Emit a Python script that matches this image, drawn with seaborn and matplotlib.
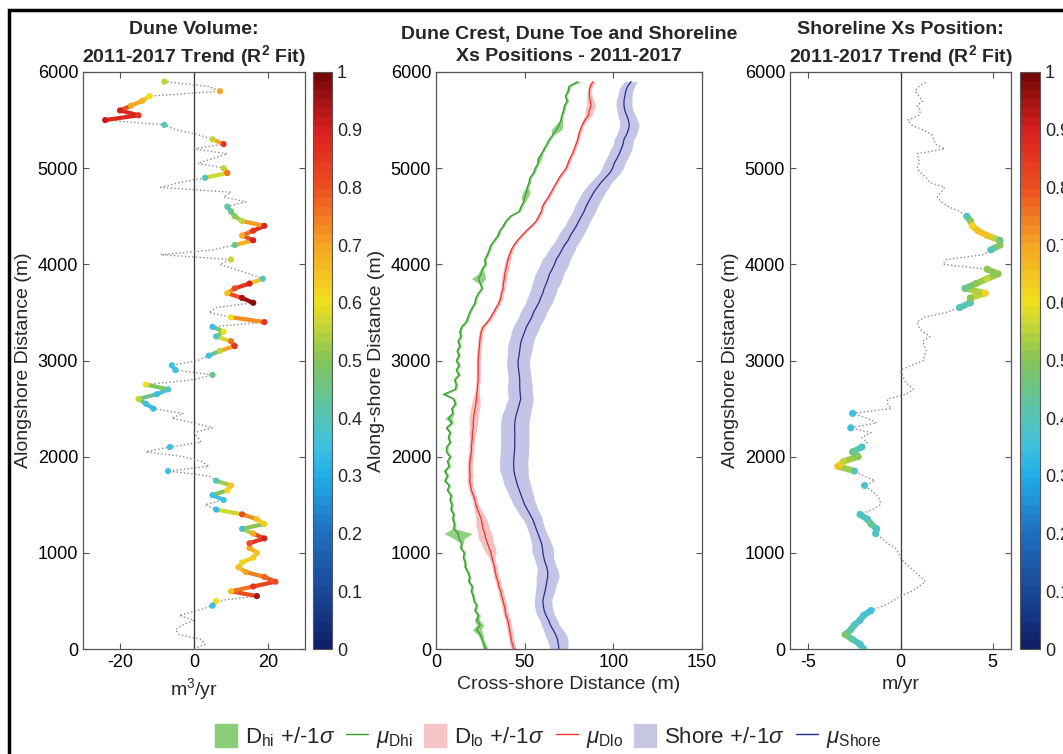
import numpy as np
import pandas as pd
import seaborn as sns
import matplotlib
matplotlib.use("Agg")
import matplotlib.pyplot as plt
from matplotlib.colors import LinearSegmentedColormap, Normalize
from matplotlib.cm import ScalarMappable
from matplotlib.patches import Patch, Rectangle
from matplotlib.lines import Line2D
from matplotlib.collections import LineCollection

# ---------------- data ----------------
alongshore = list(range(0, 5901, 50))

vol_trend = [0, 3, 2, -4, -5, -3, 0, -4, 1, 5,
             6, 17, 10, 16, 22, 19, 14, 12, 13, 16,
             17, 15, 15, 19, 16, 13, 19, 17, 13, 6,
             3, 8, 5, 9, 10, 6, 4, -7, 4, 2,
             -3, -13, -6.5, 2, 1, 0, 5, 0, -6, -3,
             -11, -13, -15, -10, -7, -13, 0, 5, -5, -6,
             1, 4, 7, 11, 10, 6, 8, 5, 19, 10,
             4, 6, 16, 13, 9, 11, 15, 18.6, 15, 11,
             7, 10, -9, 5, 11, 16, 13, 16, 19, 13,
             11, 10, 9, 14, 8, 10, -9, -4, 3, 9,
             8, 1, 5, 9, 0, 8, 5, 1, -5, -8,
             -24, -15, -20, -17, -14, -12, 7, 4, -8]
vol_r2 = [.1, .1, .1, .1, .1, .1, .1, .1, .1, .35,
          .6, .95, .65, .85, .8, .78, .7, .65, .62, .63,
          .65, .7, .8, .9, .7, .38, .63, .65, .8, .33,
          .1, .35, .35, .62, .65, .4, .1, .35, .1, .1,
          .1, .1, .35, .1, .1, .1, .1, .1, .1, .1,
          .33, .35, .55, .35, .38, .6, .1, .45, .35, .35,
          .1, .35, .55, .85, .75, .4, .6, .35, .85, .6,
          .1, .1, .97, .95, .65, .8, .9, .4, .1, .1,
          .1, .55, .1, .1, .45, .9, .7, .85, .88, .55,
          .5, .45, .42, .1, .1, .1, .1, .1, .4, .75,
          .55, .1, .1, .1, .1, .85, .55, .1, .1, .4,
          .92, .85, .9, .7, .68, .6, .7, .1, .55]

shore_trend = [-2.0, -2.2, -2.6, -3.0, -2.7, -2.5, -2.2, -2.0, -1.6, -0.9,
               -0.4, 0.0, 0.6, 1.0, 1.35, 1.1, 0.8, 0.5, 0.2, 0.0,
               -0.1, -0.3, -0.7, -1.0, -1.35, -1.3, -1.6, -1.8, -2.2, -1.5,
               -1.1, -1.1, -1.3, -1.6, -1.95, -1.4, -2.0, -2.5, -3.4, -3.1,
               -2.3, -2.6, -2.1, -1.8, -2.1, -1.6, -2.7, -1.3, -1.8, -2.6,
               -0.5, -0.7, -0.7, 0.3, 0.7, 0.4, 0.2, 0.1, 0.0, 0.6,
               1.26, 1.3, 1.4, 1.3, 1.2, 1.6, 1.2, 1.0, 0.9, 1.3,
               2.5, 3.2, 3.8, 3.8, 4.6, 3.5, 4.1, 4.7, 5.3, 4.7,
               2.3, 2.5, 4.5, 4.9, 5.4, 5.4, 4.7, 4.2, 3.9, 3.8,
               3.6, 3.2, 2.6, 2.2, 2.0, 2.2, 2.4, 1.6, 1.4, 1.1,
               0.9, 1.0, 1.0, 0.9, 2.4, 1.9, 1.8, 1.7, 1.2, 0.6,
               0.4, 1.0, 1.1, 0.9, 1.2, 1.0, 0.8, 1.0, 1.4]
shore_r2 = [.38, .38, .42, .48, .42, .4, .38, .38, .35, .1,
            .1, .1, .1, .1, .1, .1, .1, .1, .1, .1,
            .1, .1, .1, .1, .38, .38, .45, .4, .38, .1,
            .1, .1, .1, .1, .38, .1, .1, .4, .65, .55,
            .5, .45, .38, .1, .1, .1, .35, .1, .1, .35,
            .1, .1, .1, .1, .1, .1, .1, .1, .1, .1,
            .1, .1, .1, .1, .1, .1, .1, .1, .1, .1,
            .1, .4, .42, .5, .62, .45, .5, .55, .5, .5,
            .1, .1, .1, .4, .5, .45, .65, .65, .62, .5,
            .4, .1, .1, .1, .1, .1, .1, .1, .1, .1,
            .1, .1, .1, .1, .1, .1, .1, .1, .1, .1,
            .1, .1, .1, .1, .1, .1, .1, .1, .1]

dhi_mean = [28, 27, 26, 25, 23, 25, 23, 24, 22, 23,
            21.5, 21, 20, 20.5, 18.5, 19, 18, 16.5, 16.5, 15.5,
            16, 14, 14.5, 13, 12.5, 10, 10.5, 9.5, 10, 8.5,
            9, 8, 8.5, 6.5, 7.5, 5, 6.5, 5, 7.5, 6.5,
            8, 6, 6, 8, 7, 8, 6, 9, 7, 9.5,
            9, 11, 10, 4.5, 11, 11.5, 10.5, 13, 11.5, 13,
            11.5, 13, 12, 13.5, 12.5, 14, 13.5, 14.5, 17, 18,
            19, 20.5, 22, 22.5, 24, 26, 25, 24, 25.5, 26,
            28, 27.5, 29, 30, 31, 33, 35, 36, 38, 39.5,
            42, 47, 48, 49.5, 50, 51, 51.5, 52.5, 53, 55,
            56, 57.5, 58, 59.5, 61, 62.5, 64, 66, 68, 69.5,
            70.5, 71, 72, 72.5, 74, 73, 74.5, 75, 80]
dhi_sd = [1.5, 1.2, 1.0, 1.5, 2.5, 2.0, 1.5, 1.0, 0.8, 0.8,
          0.8, 0.8, 0.8, 0.8, 0.8, 0.8, 0.8, 0.8, 0.8, 0.8,
          0.8, 0.8, 0.8, 3, 8, 1, 0.8, 0.8, 0.8, 0.8,
          0.8, 0.8, 0.8, 0.8, 0.8, 0.8, 0.8, 0.8, 0.8, 0.8,
          0.8, 0.8, 0.8, 0.8, 0.8, 0.8, 0.8, 0.8, 2.0, 0.8,
          0.8, 0.8, 0.8, 1.5, 0.8, 0.8, 0.8, 0.8, 0.8, 0.8,
          0.8, 0.8, 0.8, 0.8, 0.8, 0.8, 0.8, 0.8, 0.8, 0.8,
          0.8, 0.8, 0.8, 0.8, 0.8, 0.8, 0.8, 4, 2, 0.8,
          0.8, 0.8, 0.8, 0.8, 0.8, 0.8, 0.8, 0.8, 0.8, 0.8,
          0.8, 0.8, 0.8, 0.8, 2, 2, 0.8, 0.8, 0.8, 0.8,
          0.8, 0.8, 1.5, 0.8, 0.8, 0.8, 0.8, 0.8, 3, 2,
          0.8, 0.8, 0.8, 0.8, 0.8, 0.8, 0.8, 1.0, 2]

dlo_mean = [44, 43, 42.5, 42, 41.5, 41, 40.5, 39.5, 39, 38.5,
            37.8, 37, 36.5, 35.5, 35, 34, 33.5, 33, 32.3, 31.5,
            31, 30, 29, 28, 27.5, 26.5, 26, 25.5, 24.5, 23.5,
            22.5, 22, 21, 20, 19.5, 19, 19.2, 19, 19, 19.2,
            19.5, 20, 20, 20.2, 20.5, 20.5, 21, 21, 21.2, 21.5,
            22, 22.5, 22.8, 23, 23.3, 23.5, 23.8, 23.8, 23.8, 23.8,
            23.8, 24, 24.2, 24.5, 24.7, 25, 25.5, 26.6, 29, 31,
            32.5, 34, 35.5, 36.5, 37, 37.8, 38, 38.5, 38.8, 39.5,
            40, 40.6, 41.5, 42.5, 44, 46, 48.5, 51, 54, 56.5,
            58, 59.5, 60, 61.5, 63.5, 65, 66.5, 68, 69.5, 71.5,
            73.4, 74.5, 75.5, 77, 78, 79, 80, 80.5, 81.5, 82.5,
            84, 86, 86.5, 87.5, 87, 86.5, 86.5, 87, 88.5]
dlo_sd = [1.5, 1.5, 1.5, 1.5, 1.5, 1.5, 1.5, 1.5, 1.5, 1.5,
          1.5, 1.5, 1.5, 1.5, 1.5, 1.5, 1.5, 1.5, 1.5, 1.5,
          3, 3.5, 3.5, 4, 4, 3.5, 3.5, 3, 2.5, 2,
          1.5, 1.5, 1.5, 1.5, 1.5, 1.5, 1.5, 1.5, 1.5, 1.5,
          1.5, 1.5, 1.5, 1.5, 1.5, 2, 2, 2.5, 2.5, 2.5,
          2.5, 2.5, 2, 1.5, 1.2, 1.2, 1.2, 1.2, 1.2, 1.2,
          1.2, 1.2, 1.2, 1.2, 1.2, 1.2, 1.2, 1.2, 1.2, 1.2,
          1.2, 1.2, 1.2, 1.2, 1.2, 1.2, 1.5, 1.5, 1.5, 1.5,
          1.5, 1.5, 1.2, 1.2, 1, 1, 1, 1, 1, 1,
          1, 1, 1, 1, 1, 1, 1, 1, 1, 1,
          1, 1, 1, 1, 1, 1, 1, 1, 1, 1,
          1.5, 2, 2.5, 2.5, 2, 1.5, 1.2, 1.2, 1.5]

shore_mean = [69.3, 69, 68.5, 67.5, 66, 64.5, 63.5, 62, 61, 60.5,
              60.3, 60.8, 61.5, 62, 62.5, 63, 63, 62.5, 61.5, 60.8,
              60.3, 60, 59.5, 58.5, 57.5, 56.5, 55.5, 54.5, 53, 51.5,
              50, 49, 48, 47, 46, 45.3, 44.5, 44, 43.8, 43.8,
              44, 44.2, 44.4, 44.4, 44.4, 44.5, 44.3, 44.4, 44.8, 45.5,
              46.3, 47, 47.8, 47.5, 47.3, 47.2, 47.2, 47, 46.6, 46.3,
              46.3, 46.8, 47.2, 47.5, 48, 49, 50, 51, 52.5, 54,
              55, 56.5, 58, 59, 60.2, 61, 62.2, 63.2, 64, 65.5,
              66.8, 67.8, 69.5, 71, 72.5, 74.5, 75.8, 77.5, 79.2, 80.5,
              82, 83.5, 84.6, 86, 87.5, 89, 91, 93, 95.5, 98,
              99.6, 100.5, 102, 103.4, 104.5, 105.5, 106, 107.5, 108.5, 109,
              108.5, 107.5, 106.5, 106, 106, 106.5, 107, 108, 110]
shore_sd = [5, 5.5, 6, 6, 5.5, 5, 5, 5, 5, 5,
            5, 5, 5.5, 5.5, 6, 6.5, 6, 5.5, 5.5, 5.5,
            6, 6, 5.5, 5.5, 5, 5, 5, 5.5, 6, 6,
            6.5, 6.5, 7, 7, 7.5, 7.5, 7.5, 8, 8, 8,
            8, 8, 8, 8, 8, 8, 8, 8, 8, 8,
            7.5, 7.5, 7, 7, 7, 7, 6.5, 6.5, 6.5, 6.5,
            6.5, 6.5, 7, 7, 7, 7, 7.5, 7.5, 7.5, 7.5,
            7.5, 7.5, 7.5, 7.5, 7.5, 7.5, 8, 8, 8, 8,
            8, 8, 7.5, 7.5, 7, 7, 7, 7, 6.5, 6.5,
            6.5, 6.5, 6.5, 6.5, 6.5, 6.5, 6.5, 6, 6, 6,
            6, 6, 6, 6, 6, 5.5, 5.5, 5.5, 5.5, 5.5,
            5, 5, 4.5, 4.5, 4.5, 4, 4, 4, 3.5]

r2_ticks = [0, 0.1, 0.2, 0.3, 0.4, 0.5, 0.6, 0.7, 0.8, 0.9, 1]
r2_ticklabels = ["0", "0.1", "0.2", "0.3", "0.4", "0.5", "0.6", "0.7", "0.8", "0.9", "1"]
y_ticks = [0, 1000, 2000, 3000, 4000, 5000, 6000]
R2_MIN = 0.3

# ---------------- style ----------------
sns.set_style("ticks")
plt.rcParams["font.family"] = ["Liberation Sans", "DejaVu Sans"]
plt.rcParams["mathtext.fontset"] = "custom"
plt.rcParams["mathtext.rm"] = "Liberation Sans"
plt.rcParams["mathtext.it"] = "Liberation Sans:italic"
plt.rcParams["mathtext.bf"] = "Liberation Sans:bold"
plt.rcParams["axes.edgecolor"] = "#555555"
plt.rcParams["axes.linewidth"] = 0.9
plt.rcParams["axes.unicode_minus"] = False

cmap = LinearSegmentedColormap.from_list(
    "r2", [(0.0, "#10206a"), (0.1, "#1a4a9a"), (0.2, "#2070c0"), (0.3, "#20b0e8"),
           (0.35, "#40c0e0"), (0.4, "#55c4b8"), (0.5, "#84c45a"), (0.6, "#f0e020"),
           (0.7, "#f6a622"), (0.8, "#ee5220"), (0.9, "#dc2020"), (1.0, "#780808")], N=64)
norm = Normalize(0, 1)

W, H = 1063, 754
fig = plt.figure(figsize=(W / 100, H / 100), dpi=100)


def fx(p):
    return p / W


def fy(p):
    return 1 - p / H


def style_axes(ax):
    ax.tick_params(direction="in", top=True, right=True, length=4, width=0.8,
                   labelsize=13, color="#555555", labelcolor="black")
    ax.set_ylim(0, 6000)
    ax.set_yticks(y_ticks)


def add_cbar(x0, x1):
    cax = fig.add_axes([fx(x0), fy(649), fx(x1 - x0), fy(72) - fy(649)])
    cb = fig.colorbar(ScalarMappable(norm=norm, cmap=cmap), cax=cax, ticks=r2_ticks)
    cb.ax.set_yticklabels(r2_ticklabels)
    cb.ax.tick_params(direction="in", length=3, labelsize=13, color="#555555")
    cb.outline.set_edgecolor("#555555")
    cb.outline.set_linewidth(0.8)
    return cb


def trend_panel(ax, df, lw, size, max_jump):
    ax.axvline(0, color="#333333", lw=0.9, zorder=1)
    ax.plot(df["v"], df["y"], ls=":", color="#8c8c8c", lw=1.0, zorder=2)
    v, yy, r = df["v"].to_numpy(), df["y"].to_numpy(), df["r2"].to_numpy()
    segs, cols = [], []
    for i in range(len(v) - 1):
        if r[i] >= R2_MIN and r[i + 1] >= R2_MIN and abs(v[i + 1] - v[i]) < max_jump:
            segs.append([(v[i], yy[i]), (v[i + 1], yy[i + 1])])
            cols.append(cmap(norm((r[i] + r[i + 1]) / 2)))
    ax.add_collection(LineCollection(segs, colors=cols, linewidths=lw,
                                     capstyle="round", zorder=3))
    sig = df[df["r2"] >= R2_MIN].sort_values("r2")
    sns.scatterplot(data=sig, x="v", y="y", hue="r2", palette=cmap, hue_norm=(0, 1),
                    s=size, linewidth=0, legend=False, ax=ax, zorder=4)


ax_bottom, ax_h = fy(649), fy(72) - fy(649)
TITLE_FS = 14

# ---------------- left panel ----------------
ax1 = fig.add_axes([fx(83), ax_bottom, fx(222), ax_h])
df1 = pd.DataFrame({"y": alongshore, "v": vol_trend, "r2": vol_r2})
trend_panel(ax1, df1, 3.0, 20, 10)
ax1.set_xlim(-30, 30)
ax1.set_xticks([-20, 0, 20])
style_axes(ax1)
ax1.set_xlabel("m$^{\\mathregular{3}}$/yr", fontsize=14)
ax1.set_ylabel("Alongshore Distance (m)", fontsize=14)
ax1.set_title("Dune Volume:\n2011-2017 Trend (R$^{\\mathbf{2}}$ Fit)",
              fontsize=TITLE_FS, fontweight="bold", pad=7, linespacing=1.3)
add_cbar(313, 332)

# ---------------- middle panel ----------------
ax2 = fig.add_axes([fx(436), ax_bottom, fx(266), ax_h])
y = np.array(alongshore)
series = [
    (dhi_mean, dhi_sd, "#93d084", "#33a02c"),
    (dlo_mean, dlo_sd, "#f7c0c0", "#e8352e"),
    (shore_mean, shore_sd, "#c4c4e6", "#2b2b8c"),
]
for m, s, fc, lc in series:
    m = np.array(m)
    s = np.array(s)
    ax2.fill_betweenx(y, m - s, m + s, color=fc, lw=0, zorder=1)
    sns.lineplot(x=m, y=y, sort=False, estimator=None, color=lc, lw=0.9, ax=ax2, zorder=2)
ax2.set_xlim(0, 150)
ax2.set_xticks([0, 50, 100, 150])
style_axes(ax2)
ax2.set_xlabel("Cross-shore Distance (m)", fontsize=14)
ax2.set_ylabel("Along-shore Distance (m)", fontsize=14)
ax2.set_title("Dune Crest, Dune Toe and Shoreline\nXs Positions - 2011-2017",
              fontsize=TITLE_FS, fontweight="bold", pad=8, linespacing=1.35)

# ---------------- right panel ----------------
ax3 = fig.add_axes([fx(790), ax_bottom, fx(221), ax_h])
df3 = pd.DataFrame({"y": alongshore, "v": shore_trend, "r2": shore_r2})
trend_panel(ax3, df3, 4.5, 26, 2.0)
ax3.set_xlim(-6, 6)
ax3.set_xticks([-5, 0, 5])
style_axes(ax3)
ax3.set_xlabel("m/yr", fontsize=14)
ax3.set_ylabel("Alongshore Distance (m)", fontsize=14)
ax3.set_title("Shoreline Xs Position:\n2011-2017 Trend (R$^{\\mathbf{2}}$ Fit)",
              fontsize=TITLE_FS, fontweight="bold", pad=7, linespacing=1.3)
add_cbar(1020, 1040)

# ---------------- legend ----------------
handles = [Patch(color="#8ccc78"), Line2D([], [], color="#33a02c", lw=1),
           Patch(color="#f6c4c6"), Line2D([], [], color="#e8352e", lw=1),
           Patch(color="#c6c6e2"), Line2D([], [], color="#2b2b8c", lw=1)]
labels = ["D$_{\\mathregular{hi}}$ +/-1$\\sigma$", "$\\mu_{\\mathregular{Dhi}}$",
          "D$_{\\mathregular{lo}}$ +/-1$\\sigma$", "$\\mu_{\\mathregular{Dlo}}$",
          "Shore +/-1$\\sigma$", "$\\mu_{\\mathregular{Shore}}$"]
fig.legend(handles, labels, loc="center", bbox_to_anchor=(0.5155, 0.022), ncol=6,
           frameon=False, fontsize=16, handlelength=1.0, handleheight=1.2,
           handletextpad=0.35, columnspacing=0.5, borderpad=0)

# ---------------- outer frame ----------------
fig.add_artist(Rectangle((fx(9), -0.1), 1.2, fy(10) + 0.1, transform=fig.transFigure,
                         fill=False, lw=2.5, ec="black"))

fig.savefig("out.png", dpi=100)
